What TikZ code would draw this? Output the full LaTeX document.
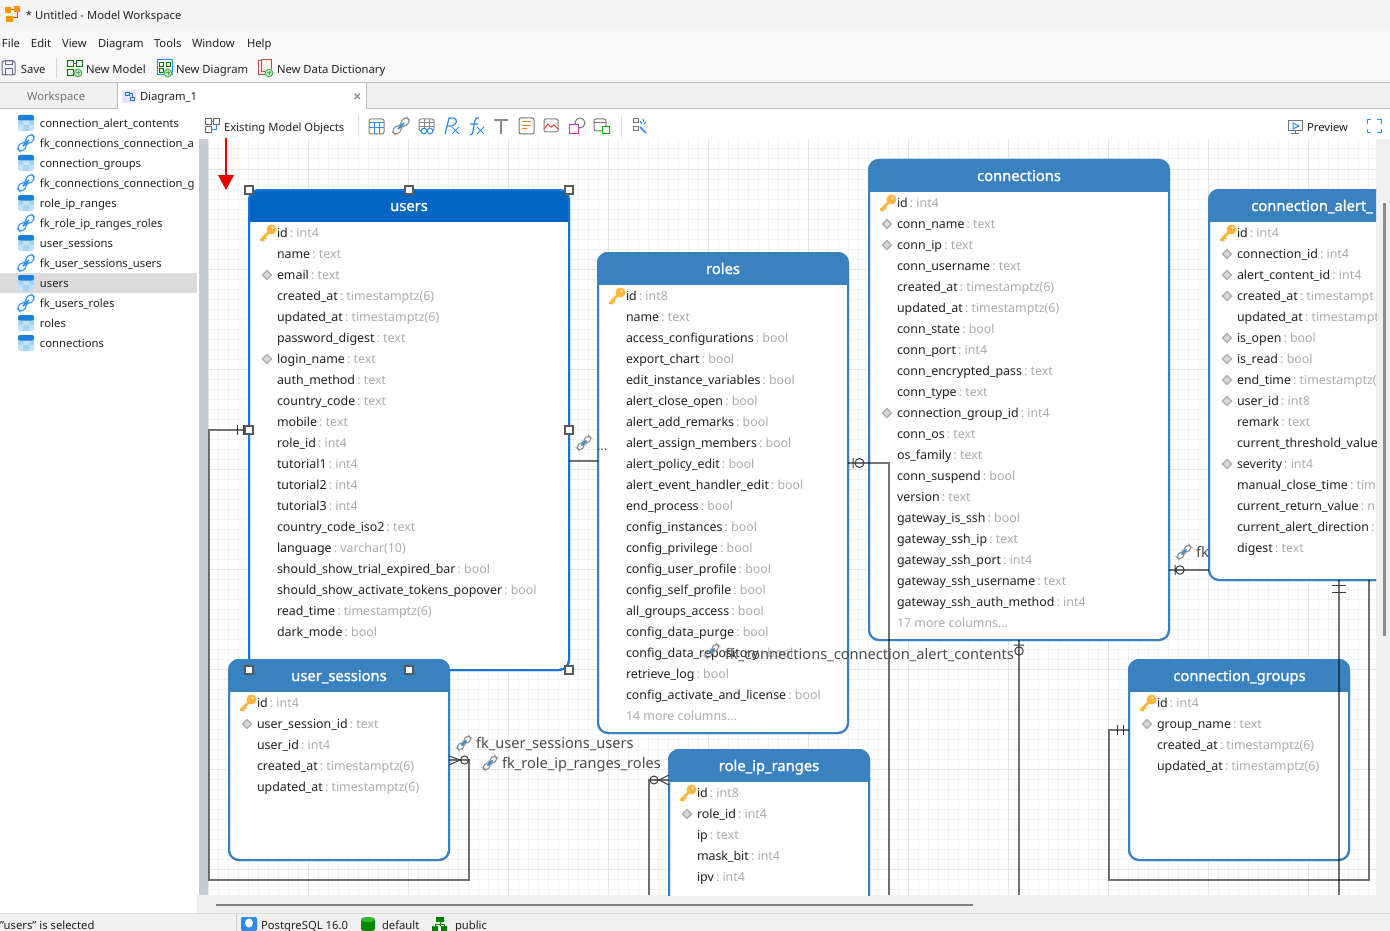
\documentclass[tikz,border=0pt]{standalone}
\usepackage{fontspec}
\setmainfont{Noto Sans}
\newfontfamily\titlefont[FakeBold=1.4]{Noto Sans}
\usetikzlibrary{calc}
\definecolor{tblue}{HTML}{3A82BF}
\definecolor{selhead}{HTML}{0066C2}
\definecolor{selbord}{HTML}{1A74D8}
\definecolor{gr}{HTML}{ABABAB}
\definecolor{ink}{HTML}{222222}
\definecolor{lab}{HTML}{4A4A4A}
\definecolor{bar}{HTML}{F0F0F0}
\definecolor{minorg}{HTML}{F3F3F3}
\definecolor{majorg}{HTML}{E5E5E5}
\definecolor{keyc}{HTML}{FBB43C}
\definecolor{linkb}{HTML}{2C8CE8}
\definecolor{gico}{HTML}{8A8A8A}
\definecolor{grn}{HTML}{3FAE49}
\definecolor{symb}{HTML}{3A3A3A}
\definecolor{strip}{HTML}{C5CCD3}
\definecolor{cellA}{HTML}{C4E3FA}
\definecolor{cellB}{HTML}{A6D4F5}
\definecolor{tabtop}{HTML}{1C7FDB}
\tikzset{
 x=0.75pt,y=-0.75pt,
 px/.style={line width=0.75pt},
 ui/.style={anchor=base west,inner sep=0pt,outer sep=0pt,text=ink,font=\fontsize{8.45}{11}\selectfont},
 rowtxt/.style={ui,font=\fontsize{9.3}{11}\selectfont},
 title/.style={anchor=base,inner sep=0pt,text=white,font=\fontsize{11.05}{12}\titlefont},
 fklabel/.style={ui,text=lab,font=\fontsize{10.95}{12}\selectfont},
 conn/.style={line width=1.5pt,black,opacity=0.55},
 sym/.style={px,symb},
 handle/.style={draw=black!65,fill=white,line width=1.1pt,minimum size=6pt,inner sep=0pt,outer sep=0pt},
}
\newcommand\T[1]{{\color{gr}\kern1.6pt:\kern2.4pt #1}}
\newcommand\Tx{\T{text}}
\newcommand\Tb{\T{bool}}
\newcommand\Tf{\T{int4}}
\newcommand\Te{\T{int8}}
\newcommand\Tz{\T{timestamptz(6)}}
\newcommand\Ik[2]{\begin{scope}[shift={(#1,#2)}]
 \draw[keyc,line width=1.9pt,line cap=round] (-6,7) -- (2,-1);
 \draw[keyc,line width=1.5pt] (-5,6) -- (-3,8) (-3,4) -- (-1,6);
 \fill[keyc] (4.5,-3.5) circle (5);
 \fill[white!80!keyc] (5.5,-5) circle (1.4);
 \end{scope}}
\newcommand\Id[2]{\begin{scope}[shift={(#1,#2)}]
 \draw[gr,fill=gr!45,line width=1pt] (0,-4.5) -- (4.5,0) -- (0,4.5) -- (-4.5,0) -- cycle;
 \end{scope}}
\newcommand\In[2]{}
\newcommand\rows[4]{\foreach \ic/\nm/\ty [count=\ii from 0] in {#4} {
  \pgfmathsetmacro\ry{#3+21*\ii}
  \pgfmathsetmacro\rb{\ry+4}
  \pgfmathsetmacro\rx{#2-10}
  \ic{\rx}{\ry}
  \node[rowtxt] (#1r\ii) at (#2,\rb) {\nm\ty};
 }}
\newcommand\tablebox[9]{% id x1 y1 x2 y2 headerbottom title head border
 \pgfmathsetmacro\tw{#4-#2}\pgfmathsetmacro\th{#5-#3}
 \pgfmathsetmacro\tcx{(#2+#4)/2}\pgfmathsetmacro\tcy{(#3+#5)/2}
 \node[draw=#9,fill=white,line width=1.5pt,rounded corners=7.5pt,inner sep=0pt,outer sep=0pt,
   minimum width={\tw*0.75pt},minimum height={\th*0.75pt}] (#1) at (\tcx,\tcy) {};
 \begin{scope}
  \clip[rounded corners=7.5pt] (#2,#3) rectangle (#4,#5);
  \fill[#8] (#2,#3) rectangle (#4,#6);
 \end{scope}
 \draw[#9,line width=1.5pt,rounded corners=7.5pt] (#2,#3) rectangle (#4,#5);
}
\newcommand\linkic[4]{\begin{scope}[shift={(#1,#2)},rotate=45,scale=#3]
 \draw[#4,line width=0.8pt,rounded corners=2.6pt] (-12,-3.8) rectangle (-1,3.8);
 \draw[#4,line width=0.8pt,rounded corners=2.6pt] (1,-3.8) rectangle (12,3.8);
 \draw[linkb,line width=1.1pt] (-5,0) -- (5,0);
 \end{scope}}
\newcommand\tabic[2]{\begin{scope}[shift={(#1,#2)}]
 \fill[cellA,rounded corners=1.5pt] (-8,-8) rectangle (8,8);
 \fill[cellB] (-8,-3) rectangle (-3,2) (3,-3) rectangle (8,2) (-3,2) rectangle (3,8);
 \fill[tabtop,rounded corners=1.5pt] (-8,-8) rectangle (8,-2.5);
 \end{scope}}
\newcommand\plusic[2]{\fill[white] (#1,#2) circle (4.5);\draw[grn,px,fill=grn!25] (#1,#2) circle (3.8);
 \draw[grn,px] ($(#1,#2)+(-2.4,0)$) -- ($(#1,#2)+(2.4,0)$) ($(#1,#2)+(0,-2.4)$) -- ($(#1,#2)+(0,2.4)$);}
\catcode`\_=12
\begin{document}
\begin{tikzpicture}
\path[use as bounding box,fill=white] (0,0) rectangle (1390,931);
% window chrome
\fill[bar!70!white] (0,0) rectangle (1390,30);
\fill[bar!50!white] (0,30) rectangle (1390,82);
\fill[bar] (0,83) rectangle (1390,108);
\draw[px,black!25] (0,82.5) -- (1390,82.5);
\draw[px,black!25] (0,108.5) -- (117,108.5) (366,108.5) -- (1390,108.5);
\fill[white] (117,83) rectangle (366,109);
\draw[px,black!25] (117,109) -- (117,83) -- (366,83) -- (366,109);
\fill[bar] (1376,139) rectangle (1390,913);
\fill[bar] (197,895) rectangle (1390,913);
\fill[bar] (0,913) rectangle (1390,931);
\draw[px,black!15] (0,913) -- (1390,913);
\fill[black!45] (1382.5,203) rectangle (1386,636);
\fill[black!50] (216,904) rectangle (973,906);
\fill[strip] (199,139) rectangle (208,895);
% title bar
\fill[orange!85!yellow] (5,7) rectangle (11,13) (14,6) rectangle (20,12) (6,16) rectangle (13,22);
\draw[px,orange!70!black] (11,10) -- (14,10) (17,12) -- (17,18) -- (13,18);
\node[ui] (wintitle) at (26,20) {* Untitled - Model Workspace};
\node[ui] (mfile) at (2,48) {File};
\node[ui] (medit) at (31,48) {Edit};
\node[ui] (mview) at (62,48) {View};
\node[ui] (mdiag) at (98,48) {Diagram};
\node[ui] (mtools) at (154,48) {Tools};
\node[ui] (mwin) at (192,48) {Window};
\node[ui] (mhelp) at (247,48) {Help};
% main toolbar
\draw[px,blue!30!black!60,rounded corners=1.5pt] (2,61) rectangle (15,75);
\draw[px,blue!30!black!60] (5,61) rectangle (12,65) (5,75) -- (5,69) -- (12,69) -- (12,75);
\node[ui] (tsave) at (21,74) {Save};
\draw[px,black!15] (56.5,58) -- (56.5,78);
\draw[px,green!45!black] (67,61) rectangle (73,67) (76,61) rectangle (82,67) (67,70) rectangle (73,76);
\draw[px,blue!70] (73,64) -- (76,64);
\plusic{78}{73}
\node[ui] (tmodel) at (86,74) {New Model};
\draw[px,linkb] (157,60) rectangle (172,75);
\draw[px,green!45!black] (159,63) rectangle (163,67) (166,63) rectangle (170,67) (159,69) rectangle (163,73);
\plusic{168}{73}
\node[ui] (tdiag) at (176,74) {New Diagram};
\draw[px,red!60!black!70,fill=red!10] (258,61) rectangle (268,75);
\draw[px,red!60!black!70,fill=red!6] (261,60) rectangle (271,72);
\plusic{269}{73}
\node[ui] (tdict) at (277,74) {New Data Dictionary};
% tabs
\node[ui,text=black!55] (tabws) at (27,101) {Workspace};
\fill[blue!10] (122,90) rectangle (136,103);
\draw[px,linkb!80!black] (125,93) rectangle (129,96) (130,98) rectangle (134,101) (129,94) -- (132,94) -- (132,98);
\node[ui] (tabd) at (140,101) {Diagram_1};
\draw[black!45,line width=1pt] (354.5,93.5) -- (360,99) (360,93.5) -- (354.5,99);
% canvas grid
\begin{scope}
\clip (208,139) rectangle (1376,895);
\foreach \gx in {218,228,...,1368} {\draw[px,minorg] (\gx,139) -- (\gx,895);}
\foreach \gy in {149,159,...,889} {\draw[px,minorg] (208,\gy) -- (1376,\gy);}
\foreach \gx in {208,308,...,1368} {\draw[px,majorg] (\gx,139) -- (\gx,895);}
\foreach \gy in {169,269,...,869} {\draw[px,majorg] (208,\gy) -- (1376,\gy);}
\end{scope}
% canvas toolbar
\draw[px,black!60] (205,119) rectangle (211,125) (213,119) rectangle (219,125) (205,127) rectangle (211,133);
\draw[px,linkb] (211,122) -- (213,122) (216,125) -- (216,130) -- (211,130);
\node[ui] (existing) at (224,132) {Existing Model Objects};
\draw[px,black!12] (358,115) -- (358,137) (621,115) -- (621,137);
% icons
\draw[px,black!50,rounded corners=1.5pt] (369,119) rectangle (384,134);
\draw[px,linkb] (369,123) -- (384,123) (369,128) -- (384,128) (374,123) -- (374,134) (379,123) -- (379,134);
\linkic{401}{126}{0.85}{gico}
\draw[px,gico,rounded corners=1.5pt] (419,119) rectangle (434,131);
\draw[px,gico] (419,123) -- (434,123) (419,127) -- (434,127) (424,119) -- (424,131) (429,119) -- (429,131);
\draw[px,linkb,fill=white] (424,131) circle (2.8) (430,131) circle (2.8);
\draw[linkb,line width=0.9pt] (445,134) .. controls (447,127) and (448,122) .. (449,118) .. controls (460,116) and (458,128) .. (447,126);
\draw[linkb,px] (452,127) -- (459,134) (459,127) -- (452,134);
\draw[linkb,line width=0.9pt] (470,135) .. controls (473,135) and (473,131) .. (474,125) .. controls (475,119) and (476,117) .. (479,118) (470,124) -- (478,124);
\draw[linkb,px] (477,127) -- (484,134) (484,127) -- (477,134);
\draw[gico,line width=1.5pt] (494,120) -- (508,120) (501,120) -- (501,134);
\draw[px,black!55,rounded corners=1.5pt] (519,118) rectangle (534,134);
\draw[px,orange] (522,122) -- (531,122) (522,125.5) -- (531,125.5) (522,129) -- (527,129);
\draw[px,black!50,rounded corners=1pt] (544,119) rectangle (558,132);
\draw[px,red!80] (544,129) -- (548,124) -- (551,127) -- (554,125) -- (558,129);
\draw[px,black!55] (580,123) circle (5);
\draw[px,violet!60!magenta!80,fill=white] (569,125) rectangle (578,134);
\draw[px,black!55,rounded corners=1.5pt] (594,119) rectangle (606,131);
\draw[px,black!55] (594,123) -- (606,123);
\draw[px,green!70!black,fill=white] (602,127) rectangle (609,134);
\draw[px,black!55] (633,119) rectangle (638,123) (633,127) rectangle (638,131);
\draw[linkb,line width=1.3pt] (640,127) -- (646,133);
\draw[px,linkb] (640,121) -- (642,124) (643,119) -- (644,122) (646,122) -- (644,124);
\draw[px,black!55] (1288,121) rectangle (1302,131) (1295,131) -- (1295,134) (1291,134) -- (1299,134);
\draw[px,linkb] (1293,123) -- (1299,126) -- (1293,129) -- cycle;
\node[ui] (preview) at (1307,132) {Preview};
\draw[px,linkb!90!cyan] (1367,124) -- (1367,120) -- (1371,120) (1377,120) -- (1381,120) -- (1381,124) (1367,129) -- (1367,133) -- (1371,133) (1377,133) -- (1381,133) -- (1381,129);
% sidebar
\fill[black!14] (0,273) rectangle (197,293);
\begin{scope}
\clip (0,110) rectangle (197,360);
\tabic{26}{123}\node[ui] (s1) at (40,127.5) {connection_alert_contents};
\linkic{26}{143}{0.85}{linkb}\node[ui] (s2) at (40,147.5) {fk_connections_connection_a};
\tabic{26}{163}\node[ui] (s3) at (40,167.5) {connection_groups};
\linkic{26}{183}{0.85}{linkb}\node[ui] (s4) at (40,187.5) {fk_connections_connection_g};
\tabic{26}{203}\node[ui] (s5) at (40,207.5) {role_ip_ranges};
\linkic{26}{223}{0.85}{linkb}\node[ui] (s6) at (40,227.5) {fk_role_ip_ranges_roles};
\tabic{26}{243}\node[ui] (s7) at (40,247.5) {user_sessions};
\linkic{26}{263}{0.85}{linkb}\node[ui] (s8) at (40,267.5) {fk_user_sessions_users};
\tabic{26}{283}\node[ui] (s9) at (40,287.5) {users};
\linkic{26}{303}{0.85}{linkb}\node[ui] (s10) at (40,307.5) {fk_users_roles};
\tabic{26}{323}\node[ui] (s11) at (40,327.5) {roles};
\tabic{26}{343}\node[ui] (s12) at (40,347.5) {connections};
\end{scope}
% tables
\begin{scope}
\clip (208,139) rectangle (1376,895);
\tablebox{users}{249}{190}{569}{670}{222}{users}{selhead}{selbord}
\node[title] (usersT) at (409,211) {users};
\rows{users}{277}{233}{\Ik/id/\Tf,\In/name/\Tx,\Id/email/\Tx,\In/created_at/\Tz,\In/updated_at/\Tz,\In/password_digest/\Tx,\Id/login_name/\Tx,\In/auth_method/\Tx,\In/country_code/\Tx,\In/mobile/\Tx,\In/role_id/\Tf,\In/tutorial1/\Tf,\In/tutorial2/\Tf,\In/tutorial3/\Tf,\In/country_code_iso2/\Tx,\In/language/\T{varchar(10)},\In/should_show_trial_expired_bar/\Tb,\In/should_show_activate_tokens_popover/\Tb,\In/read_time/\Tz,\In/dark_mode/\Tb}

\tablebox{usess}{229}{660}{449}{860}{692}{user_sessions}{tblue}{tblue}
\node[title] (usessT) at (339,681) {user_sessions};
\rows{usess}{257}{703}{\Ik/id/\Tf,\Id/user_session_id/\Tx,\In/user_id/\Tf,\In/created_at/\Tz,\In/updated_at/\Tz}

\tablebox{roles}{598}{253}{848}{733}{285}{roles}{tblue}{tblue}
\node[title] (rolesT) at (723,274) {roles};
\rows{roles}{626}{296}{\Ik/id/\Te,\In/name/\Tx,\In/access_configurations/\Tb,\In/export_chart/\Tb,\In/edit_instance_variables/\Tb,\In/alert_close_open/\Tb,\In/alert_add_remarks/\Tb,\In/alert_assign_members/\Tb,\In/alert_policy_edit/\Tb,\In/alert_event_handler_edit/\Tb,\In/end_process/\Tb,\In/config_instances/\Tb,\In/config_privilege/\Tb,\In/config_user_profile/\Tb,\In/config_self_profile/\Tb,\In/all_groups_access/\Tb,\In/config_data_purge/\Tb,\In/config_data_repository/\Tb,\In/retrieve_log/\Tb,\In/config_activate_and_license/\Tb,\In/{\color{gr}14 more columns…}/{}}

\tablebox{conns}{869}{160}{1169}{640}{192}{connections}{tblue}{tblue}
\node[title] (connsT) at (1019,181) {connections};
\rows{conns}{897}{203}{\Ik/id/\Tf,\Id/conn_name/\Tx,\Id/conn_ip/\Tx,\In/conn_username/\Tx,\In/created_at/\Tz,\In/updated_at/\Tz,\In/conn_state/\Tb,\In/conn_port/\Tf,\In/conn_encrypted_pass/\Tx,\In/conn_type/\Tx,\Id/connection_group_id/\Tf,\In/conn_os/\Tx,\In/os_family/\Tx,\In/conn_suspend/\Tb,\In/version/\Tx,\In/gateway_is_ssh/\Tb,\In/gateway_ssh_ip/\Tx,\In/gateway_ssh_port/\Tf,\In/gateway_ssh_username/\Tx,\In/gateway_ssh_auth_method/\Tf,\In/{\color{gr}17 more columns…}/{}}

\tablebox{alert}{1209}{190}{1500}{580}{222}{connection_alert_}{tblue}{tblue}
\node[title,anchor=base west] (alertT) at (1251,211) {connection_alert_};
\rows{alert}{1237}{233}{\Ik/id/\Tf,\Id/connection_id/\Tf,\Id/alert_content_id/\Tf,\Id/created_at/\T{timestampt},\In/updated_at/\T{timestampt},\Id/is_open/\Tb,\Id/is_read/\Tb,\Id/end_time/\T{timestamptz(},\Id/user_id/\Te,\In/remark/\Tx,\In/current_threshold_value/{},\Id/severity/\Tf,\In/manual_close_time/\T{tim},\In/current_return_value/\T{n},\In/current_alert_direction/\T{},\In/digest/\Tx}

\tablebox{groups}{1129}{660}{1349}{860}{692}{connection_groups}{tblue}{tblue}
\node[title] (groupsT) at (1239.5,681) {connection_groups};
\rows{groups}{1157}{703}{\Ik/id/\Tf,\Id/group_name/\Tx,\In/created_at/\Tz,\In/updated_at/\Tz}

\tablebox{ripr}{669}{750}{869}{1000}{782}{role_ip_ranges}{tblue}{tblue}
\node[title] (riprT) at (769,771) {role_ip_ranges};
\rows{ripr}{697}{793}{\Ik/id/\Te,\Id/role_id/\Tf,\In/ip/\Tx,\In/mask_bit/\Tf,\In/ipv/\Tf}
\end{scope}
% connector free ends
\coordinate (bottomA) at (889,895);
\coordinate (bottomB) at (1019,895);
\coordinate (bottomC) at (1339,895);
\coordinate (bottomD) at (649,895);
% connectors
\draw[conn] (users.west) -- (209,430) -- (209,880) -- (469,880) -- (469,760) -- (usess.east |- 0,760);
\draw[conn] (users.east |- 0,461) -- (roles.west |- 0,461);
\draw[conn] (roles.east |- 0,463) -- (889,463) -- (bottomA);
\draw[conn] (conns.south -| 1019,0) -- (bottomB);
\draw[conn] (conns.east |- 0,570) -- (alert.west |- 0,570);
\draw[conn] (alert.south -| 1339,0) -- (bottomC);
\draw[conn] (alert.south -| 1369,0) -- (1369,880) -- (1109,880) -- (1109,730) -- (groups.west |- 0,730);
\draw[conn] (ripr.west |- 0,780) -- (649,780) -- (bottomD);
% cardinality marks
\draw[sym] (237,425) -- (237,435) (243,425) -- (243,435);
\draw[sym] (usess.east |- 0,756) -- (460,760) -- (usess.east |- 0,765);
\draw[sym] (464.5,760) circle (4);
\draw[sym] (853,458) -- (853,468) (859.5,463) circle (4.5);
\draw[sym] (1014,645) -- (1024,645) (1019,651) circle (4.2);
\draw[sym] (1175,565) -- (1175,575) (1180,570) circle (4.2);
\draw[sym] (1332,585) -- (1346,585) (1332,592) -- (1346,592);
\draw[sym] (1117,725) -- (1117,735) (1123,725) -- (1123,735);
\draw[sym] (ripr.west |- 0,775) -- (659,780) -- (ripr.west |- 0,785) (654,780) circle (4);
% connector labels
\linkic{584}{443}{0.72}{gico}
\node[fklabel,text=black!70,font=\fontsize{9.5}{10}\selectfont] (lab1) at (597,450) {...};
\linkic{712}{651}{0.72}{gico}
\node[fklabel] (lab2) at (725,659) {fk_connections_connection_alert_contents};
\linkic{464}{743}{0.72}{gico}
\node[fklabel] (lab3) at (476,748) {fk_user_sessions_users};
\linkic{490}{763}{0.72}{gico}
\node[fklabel] (lab4) at (502,768) {fk_role_ip_ranges_roles};
\linkic{1184}{552}{0.72}{gico}
\node[fklabel] (lab5) at (1196,557) {fk};
% selection handles
\node[handle] (h1) at (249,190) {};
\node[handle] (h2) at (409,190) {};
\node[handle] (h3) at (569,190) {};
\node[handle] (h4) at (249,430) {};
\node[handle] (h5) at (569,430) {};
\node[handle] (h6) at (249,670) {};
\node[handle] (h7) at (409,670) {};
\node[handle] (h8) at (569,670) {};
% red arrow
\coordinate (arrowA) at (226,138);
\coordinate (arrowB) at (226,190);
\draw[red!90!black,line width=1.5pt] (arrowA) -- (226,178);
\fill[red!90!black] (218,175) -- (234,175) -- (arrowB) -- cycle;
% status bar
\node[ui] (st1) at (0,929.5) {"users" is selected};
\draw[px,black!20] (236.5,914) -- (236.5,931);
\fill[linkb,rounded corners=1pt] (241,917) rectangle (257,931);
\fill[white] (249,923) ellipse (4 and 4.5);
\node[ui] (st2) at (261,929.5) {PostgreSQL 16.0};
\fill[green!55!black,rounded corners=2pt] (361,918) rectangle (375,931);
\fill[green!65!black!80] (368,919.5) ellipse (7 and 2.5);
\node[ui] (st3) at (382,929.5) {default};
\fill[green!50!black] (436,917) rectangle (444,922) (432,926) rectangle (438,931) (441,926) rectangle (447,931);
\draw[px,green!50!black] (440,922) -- (440,926) (435,926) -- (435,924) -- (444,924) -- (444,926);
\node[ui] (st4) at (455,929.5) {public};
\end{tikzpicture}
\end{document}
